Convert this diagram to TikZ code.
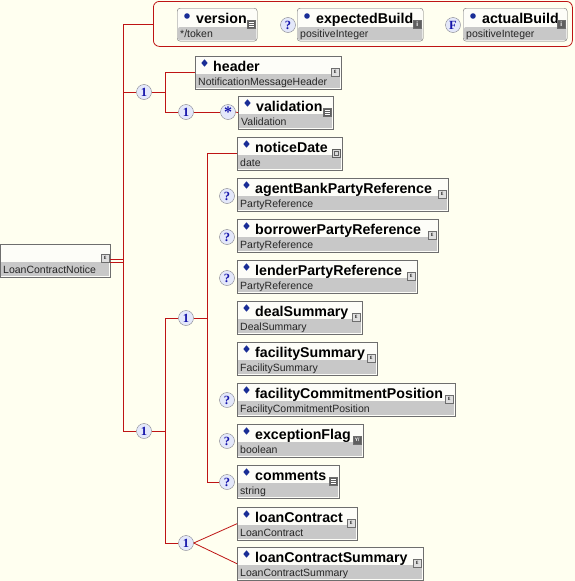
\documentclass[tikz,border=0pt]{standalone}
\usepackage{fontspec}
\setmainfont{Liberation Sans}
\newfontfamily\circfont{Liberation Serif}
\usetikzlibrary{shapes.geometric}
\definecolor{bg}{RGB}{255,255,240}
\definecolor{linered}{RGB}{190,20,20}
\definecolor{boxgray}{RGB}{110,110,110}
\definecolor{boxtop}{RGB}{253,253,248}
\definecolor{bandc}{RGB}{200,200,200}
\definecolor{diablue}{RGB}{25,45,150}
\definecolor{circfill}{RGB}{228,232,250}
\definecolor{circgray}{RGB}{130,130,140}
\definecolor{multblue}{RGB}{20,20,170}
\definecolor{icdark}{RGB}{95,95,95}
\tikzset{
  conn/.style={draw=linered, line width=0.8pt},
  ebox/.style={rectangle, draw=boxgray, fill=boxtop, minimum height=33pt, inner sep=0pt, anchor=north west},
  abox/.style={ebox, rounded corners=3pt},
  mult/.style={circle, draw=circgray, fill=circfill, minimum size=15pt, inner sep=0pt, font=\circfont\bfseries\fontsize{12.5}{12.5}\selectfont, text=multblue},
  nametxt/.style={anchor=base west, inner sep=0pt, font=\bfseries\fontsize{14.2}{14.2}\selectfont},
  typetxt/.style={anchor=base west, inner sep=0pt, font=\fontsize{10.5}{10.5}\selectfont, text=black!85},
  iconbase/.style={rectangle, draw=boxgray, minimum size=8pt, inner sep=0pt, anchor=north east, line width=0.4pt}
}
\newcommand\iconC[1]{\node[iconbase, fill=gray!25, font=\fontsize{6}{6}\selectfont] at ([xshift=-2pt,yshift=-12pt]#1.north east) {ε};}
\newcommand\iconS[1]{\node[iconbase, fill=icdark] (ic) at ([xshift=-2pt,yshift=-12pt]#1.north east) {};
  \foreach \k in {2,4,6} \draw[white, line width=0.6pt] ([xshift=1.5pt,yshift=-\k pt]ic.north west) -- ([xshift=-1.5pt,yshift=-\k pt]ic.north east);}
\newcommand\iconD[1]{\node[iconbase, fill=gray!30, draw=icdark] (ic) at ([xshift=-2pt,yshift=-12pt]#1.north east) {};
  \draw[icdark, line width=0.6pt] ([xshift=1.8pt,yshift=-2.5pt]ic.north west) rectangle ([xshift=-1.8pt,yshift=2.5pt]ic.south east);}
\newcommand\iconB[1]{\node[iconbase, fill=icdark, text=white, font=\bfseries\fontsize{5}{5}\selectfont] at ([xshift=-2pt,yshift=-12pt]#1.north east) {Y/};}
\newcommand\iconI[1]{\node[iconbase, fill=icdark, text=white, font=\bfseries\fontsize{6.5}{6.5}\selectfont] at ([xshift=-2pt,yshift=-12pt]#1.north east) {i};}
% element: name, x, y, right, label, type, icon
\newcommand\elem[7]{%
  \pgfmathsetmacro\ew{#4-#2}%
  \node[ebox, minimum width=\ew pt] (#1) at (#2,#3) {};
  \fill[bandc] ([xshift=1pt,yshift=-18pt]#1.north west) rectangle ([xshift=-1pt,yshift=1pt]#1.south east);
  \node[diamond, fill=diablue, inner sep=0pt, minimum width=6.5pt, minimum height=7.5pt] at ([xshift=9.5pt,yshift=-7pt]#1.north west) {};
  \node[nametxt] at ([xshift=18pt,yshift=-15pt]#1.north west) {#5};
  \node[typetxt] at ([xshift=3pt,yshift=-29pt]#1.north west) {#6};
  #7{#1}%
}
\newcommand\attrel[7]{%
  \pgfmathsetmacro\ew{#4-#2}%
  \node[abox, minimum width=\ew pt] (#1) at (#2,#3) {};
  \fill[bandc, rounded corners=2pt] ([xshift=1pt,yshift=-19pt]#1.north west) rectangle ([xshift=-1pt,yshift=1pt]#1.south east);
  \fill[diablue] ([xshift=10pt,yshift=-8pt]#1.north west) circle[radius=2.8pt];
  \node[nametxt] at ([xshift=19pt,yshift=-15pt]#1.north west) {#5};
  \node[typetxt] at ([xshift=3pt,yshift=-29pt]#1.north west) {#6};
  #7{#1}%
}
\begin{document}
\begin{tikzpicture}[x=1pt,y=-1pt]
\fill[bg] (0,0) rectangle (575,581);
\useasboundingbox (0,0) rectangle (575,581);
\coordinate (T) at (123,0);
\coordinate (V1) at (165,0);
\coordinate (V3) at (207,0);

% attribute group
\node[draw=linered, line width=0.8pt, rounded corners=6pt, minimum width=419pt, minimum height=45pt, anchor=north west, inner sep=0pt] (attrgrp) at (153,1) {};
\attrel{version}{177}{8}{257}{version}{*/token}{\iconS}
\node[mult] (qExp) at (288,25) {?};
\attrel{expected}{297}{8}{423}{expectedBuild}{positiveInteger}{\iconI}
\node[mult] (fAct) at (453,25) {F};
\attrel{actual}{463}{8}{567}{actualBuild}{positiveInteger}{\iconI}

% root element
\node[ebox, minimum width=110pt, minimum height=33pt] (LCN) at (0,244) {};
\fill[bandc] ([xshift=1pt,yshift=-18pt]LCN.north west) rectangle ([xshift=-1pt,yshift=1pt]LCN.south east);
\node[typetxt] at ([xshift=3pt,yshift=-29pt]LCN.north west) {LoanContractNotice};
\node[iconbase, fill=gray!25, font=\fontsize{6}{6}\selectfont] at ([xshift=-1pt,yshift=-10pt]LCN.north east) {ε};

% compositors
\node[mult] (seqA) at (144,92) {1};
\node[mult] (seqA2) at (186,112) {1};
\node[mult, font=\circfont\bfseries\fontsize{16}{16}\selectfont] (star) at (228,112) {\raisebox{-4pt}{*}};
\node[mult] (seqB) at (144,431) {1};
\node[mult] (seqC) at (186,318) {1};
\node[mult] (seqD) at (186,543) {1};

% elements
\elem{header}{195}{56}{341}{header}{NotificationMessageHeader}{\iconC}
\elem{validation}{238}{96}{333}{validation}{Validation}{\iconS}
\elem{noticeDate}{237}{137}{342}{noticeDate}{date}{\iconD}
\elem{agentBank}{237}{178}{448}{agentBankPartyReference}{PartyReference}{\iconC}
\elem{borrower}{237}{219}{438}{borrowerPartyReference}{PartyReference}{\iconC}
\elem{lender}{237}{260}{417}{lenderPartyReference}{PartyReference}{\iconC}
\elem{deal}{237}{301}{362}{dealSummary}{DealSummary}{\iconC}
\elem{facility}{237}{342}{377}{facilitySummary}{FacilitySummary}{\iconC}
\elem{fcp}{237}{383}{455}{facilityCommitmentPosition}{FacilityCommitmentPosition}{\iconC}
\elem{exception}{237}{424}{363}{exceptionFlag}{boolean}{\iconB}
\elem{comments}{237}{465}{339}{comments}{string}{\iconS}
\elem{loanContract}{237}{507}{357}{loanContract}{LoanContract}{\iconC}
\elem{lcSummary}{237}{547}{423}{loanContractSummary}{LoanContractSummary}{\iconC}

% optional markers
\node[mult] (qAgent) at (227,196) {?};
\node[mult] (qBorrower) at (227,237) {?};
\node[mult] (qLender) at (227,278) {?};
\node[mult] (qFcp) at (227,400) {?};
\node[mult] (qEx) at (227,441) {?};
\node[mult] (qCom) at (227,482) {?};

% connectors
\draw[conn] ([yshift=1.5pt]LCN.east) -- ([yshift=1.5pt]T |- LCN.east);
\draw[conn] ([yshift=-1.5pt]LCN.east) -- ([yshift=-1.5pt]T |- LCN.east);
\draw[conn] (attrgrp.west) -| (T |- seqB) -- (seqB.west);
\draw[conn] (T |- seqA) -- (seqA.west);
\draw[conn] (seqA.east) -- (V1 |- seqA);
\draw[conn] (header.west) -| (V1 |- seqA2) -- (seqA2.west);
\draw[conn] (seqA2.east) -- (star.west);
\draw[conn] (star.east) -- (validation.west);
\draw[conn] (seqB.east) -- (V1 |- seqB);
\draw[conn] (seqC.west) -| (V1 |- seqD) -- (seqD.west);
\draw[conn] (seqC.east) -- (V3 |- seqC);
\draw[conn] (noticeDate.west) -| (V3 |- qCom) -- (qCom.west);
\draw[conn] (seqD.east) -- (loanContract.west);
\draw[conn] (seqD.east) -- (lcSummary.west);
\end{tikzpicture}
\end{document}
